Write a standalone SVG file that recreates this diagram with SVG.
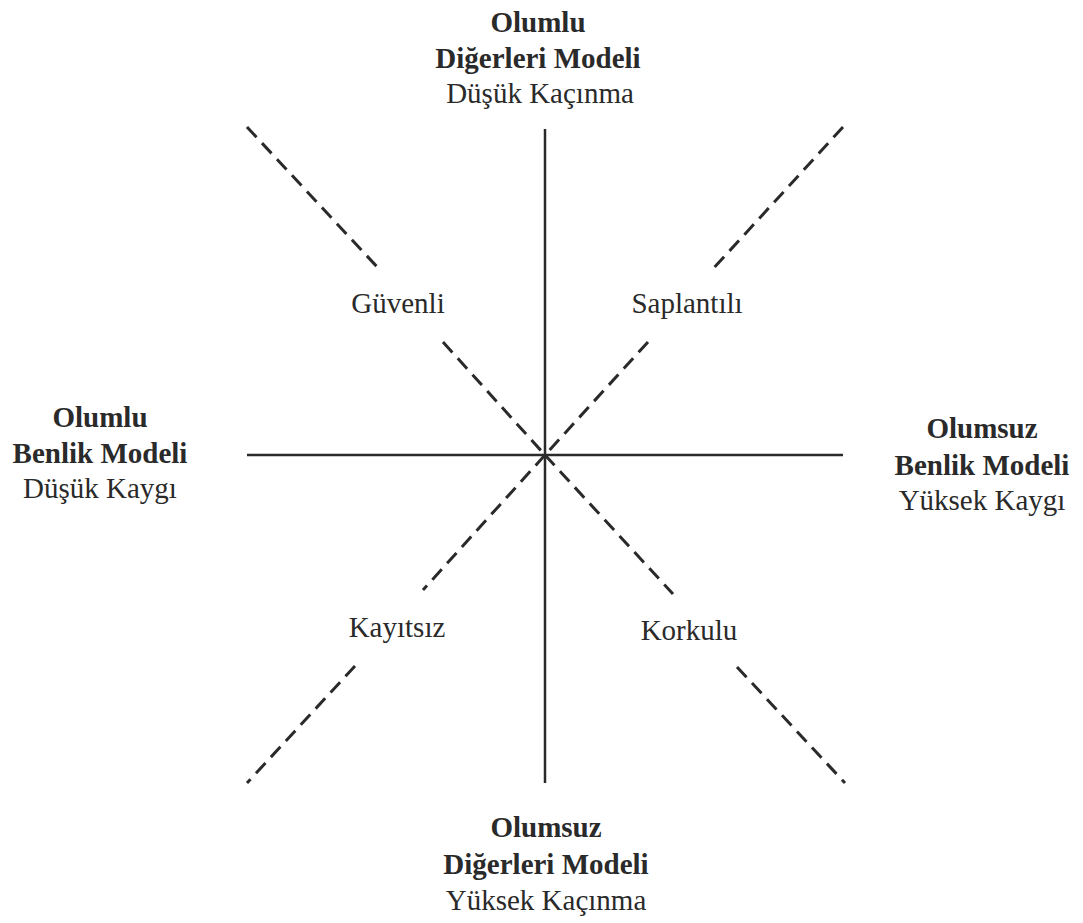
<svg xmlns="http://www.w3.org/2000/svg" width="1083" height="923" viewBox="0 0 1083 923">
<style>
text{font-family:"Liberation Serif","Times New Roman",serif;font-size:29px;fill:#2a2a2a;text-anchor:middle}
.b{font-weight:bold}
.axis{stroke:#2a2a2a;stroke-width:2.5;fill:none}
.dash{stroke:#2a2a2a;stroke-width:3;fill:none;stroke-dasharray:14 8}
</style>
<rect width="1083" height="923" fill="#ffffff"/>
<g id="connectors">
<line class="axis" x1="545" y1="129" x2="545" y2="783"/>
<line class="axis" x1="247" y1="455" x2="843" y2="455"/>
<line class="dash" x1="247" y1="127" x2="380" y2="270"/>
<line class="dash" x1="443" y1="342" x2="545" y2="455"/>
<line class="dash" x1="843" y1="127" x2="712" y2="270"/>
<line class="dash" x1="648" y1="342" x2="545" y2="455"/>
<line class="dash" x1="545" y1="455" x2="423" y2="590"/>
<line class="dash" x1="355" y1="666" x2="247" y2="783"/>
<line class="dash" x1="545" y1="455" x2="673" y2="594"/>
<line class="dash" x1="737" y1="667" x2="845" y2="783"/>
</g>
<g id="top">
<text class="b" x="538" y="32">Olumlu</text>
<text class="b" x="538" y="68">Diğerleri Modeli</text>
<text x="540" y="103">Düşük Kaçınma</text>
</g>
<g id="bottom">
<text class="b" x="546" y="837">Olumsuz</text>
<text class="b" x="546" y="874">Diğerleri Modeli</text>
<text x="546" y="910">Yüksek Kaçınma</text>
</g>
<g id="left">
<text class="b" x="100" y="427">Olumlu</text>
<text class="b" x="100" y="463">Benlik Modeli</text>
<text x="100" y="498">Düşük Kaygı</text>
</g>
<g id="right">
<text class="b" x="982" y="438">Olumsuz</text>
<text class="b" x="982" y="475">Benlik Modeli</text>
<text x="982" y="510">Yüksek Kaygı</text>
</g>
<g id="guvenli"><text x="398" y="313">Güvenli</text></g>
<g id="saplantili"><text x="687" y="313">Saplantılı</text></g>
<g id="kayitsiz"><text x="397" y="637">Kayıtsız</text></g>
<g id="korkulu"><text x="689" y="640">Korkulu</text></g>
</svg>
